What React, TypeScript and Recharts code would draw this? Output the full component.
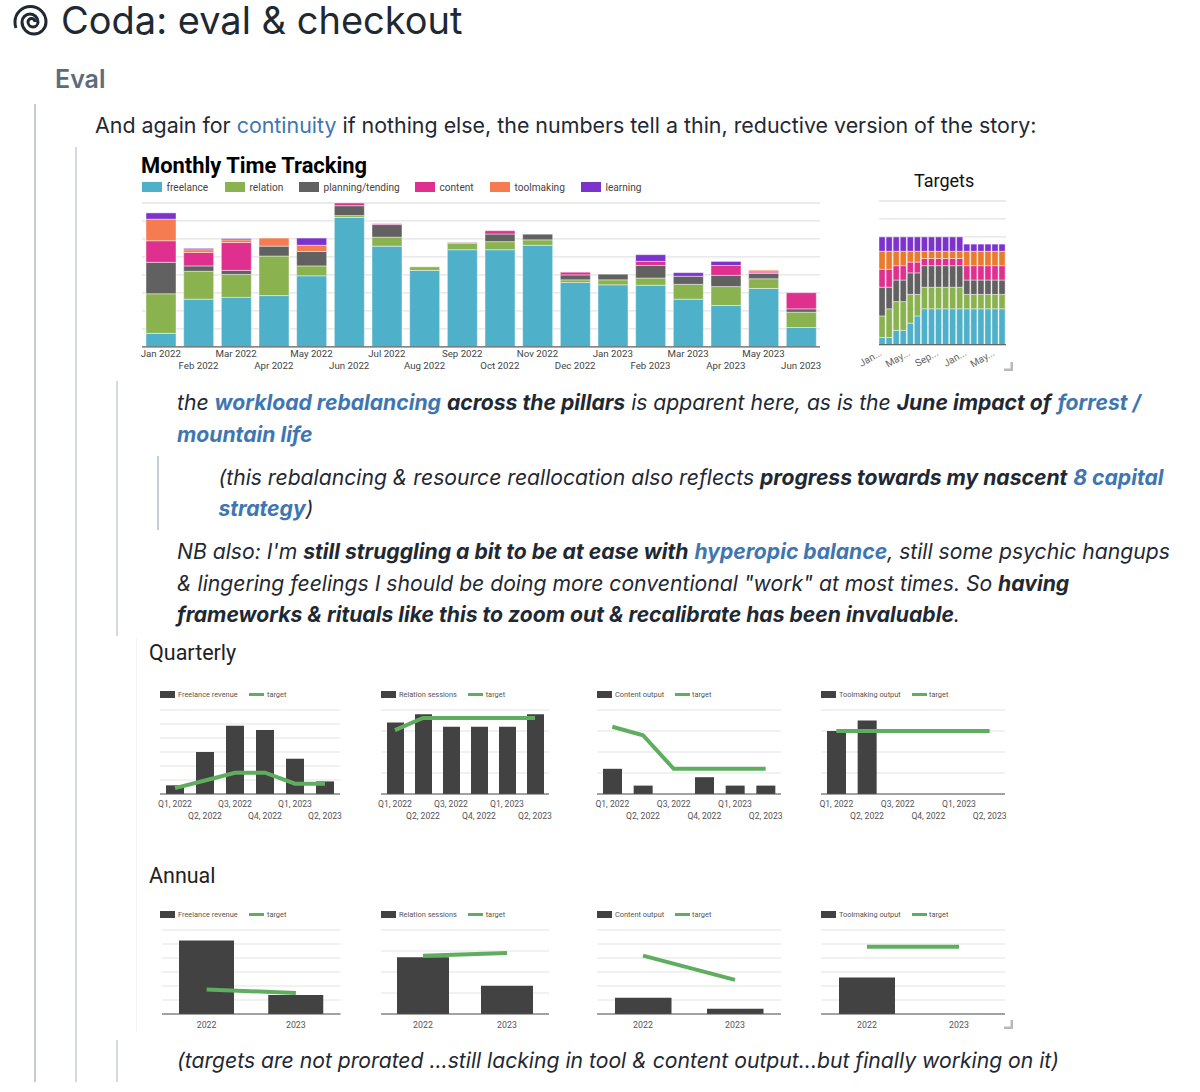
import React from "react";
import { ComposedChart, Bar, Line, XAxis, YAxis, CartesianGrid } from "recharts";

const monthCats = ["Jan 2022","Feb 2022","Mar 2022","Apr 2022","May 2022","Jun 2022","Jul 2022","Aug 2022","Sep 2022","Oct 2022","Nov 2022","Dec 2022","Jan 2023","Feb 2023","Mar 2023","Apr 2023","May 2023","Jun 2023"];
const stackNames = ["freelance","relation","planning/tending","content","toolmaking","learning"];
const stackColors = ["#4fb0c9","#8ab24f","#616161","#e0308f","#f47c50","#7b33cc"];
const targetColors = ["#4fb0c9","#8ab24f","#616161","#e0308f","#e97a2e","#7b33cc"];

const freelance = [15,53,55,57,79,144,112,85,108,108,113,71.5,69,68.5,53,46,65,21.5];
const relation = [44,31,25.5,44,11,2,10,4,7,9,6,3,5.5,8,16.5,21,10.7,17];
const planning = [35,6,4.5,11,16,11,14,0,1,8.5,6.3,5.5,6.3,14,9,12.5,6,3.7];
const content = [24,15,31,0,0,3,1,0,0,3.7,0,3,0,4.5,0,11,1.5,18];
const toolmaking = [24,3,3,9,7,0,0,0,0,0,0,0,0,0,0,0,2,0];
const learning = [7,1.5,1.5,0,8,0,0,0,0,0,0,0,0,7.5,4,4.5,0,0];
const monthlySeries = [freelance,relation,planning,content,toolmaking,learning];
const monthlyTicks = [0,20,40,60,80,100,120,140,160];

const tFreelance = [8,8,16,16,24,32,40,40,40,40,40,40,40,40,40,40,40,40];
const tRelation = [24,32,32,32,32,24,24,24,24,24,24,24,16,16,16,16,16,16];
const tPlanning = [32,24,24,24,24,24,24,24,24,24,24,24,16,16,16,16,16,16];
const tContent = [20,20,16,16,12,12,8,8,8,8,8,8,16,16,16,16,16,16];
const tToolmaking = [20,20,16,16,12,12,8,8,8,8,8,8,16,16,16,16,16,16];
const tLearning = [16,16,16,16,16,16,16,16,16,16,16,16,8,8,8,8,8,8];
const targetSeries = [tFreelance,tRelation,tPlanning,tContent,tToolmaking,tLearning];

const quarters = ["Q1, 2022","Q2, 2022","Q3, 2022","Q4, 2022","Q1, 2023","Q2, 2023"];
const years = ["2022","2023"];

const qFreelance = [3.1,15,24.4,22.9,12.6,4.5];
const qFreelanceT = [2.1,4.8,7.6,7.6,3.7,3.7];
const qRelation = [17,19,16,16,16,19];
const qRelationT = [15.2,18.1,18.1,18.1,18.1,18.1];
const qContent = [3,1,0,2,1,1];
const qContentT = [8,7,3,3,3,3];
const qTool = [6,7,0,0,0,0];
const qToolT = [6,6,6,6,6,6];

const aFreelance = [105,27];
const aFreelanceT = [35,30];
const aRelation = [54,27];
const aRelationT = [55.5,58];
const aContent = [7,2.3];
const aContentT = [25,14.6];
const aTool = [13,0];
const aToolT = [24,24];

const legendOffsets: Record<string, number[]> = {
  "Freelance revenue": [89, 107],
  "Relation sessions": [87, 104.7],
  "Content output": [78, 95],
  "Toolmaking output": [91, 108],
};

const TEXT = "#1f2933";
const LINK = "#3f76b2";
const GRID = "#e3e3e3";
const M = 24;

function toRows(cats: string[], series: Record<string, number[]>) {
  return cats.map((name, i) => {
    const row: any = { name };
    Object.keys(series).forEach((k) => (row[k] = series[k][i]));
    return row;
  });
}

function Abs({ x, y, style, children }: any) {
  return <div style={{ position: "absolute", left: x, top: y, whiteSpace: "nowrap", ...style }}>{children}</div>;
}

const TwoRowTick = (size: number, r1: number, r2: number, color: string) => (p: any) => (
  <text x={p.x} y={p.y + (p.index % 2 ? r2 : r1)} textAnchor="middle" fontFamily="Roboto" fontSize={size} fill={color}>
    {p.payload.value}
  </text>
);

function StackChart({ x, y, w, h, cats, series, colors, ticks, barSize, tick, axisH, interval }: any) {
  const rows = cats.map((name: string, i: number) => {
    const row: any = { name };
    stackNames.forEach((k, s) => (row[k] = series[s][i]));
    return row;
  });
  return (
    <div style={{ position: "absolute", left: x - M, top: y - 2 }}>
      <ComposedChart width={w + M * 2} height={h + 2 + axisH} data={rows} margin={{ top: 2, right: M, bottom: 0, left: M }}>
        <CartesianGrid vertical={false} stroke={GRID} strokeWidth={1.3} />
        <XAxis dataKey="name" height={axisH} interval={interval} tick={tick} tickLine={false} stroke="#666" strokeWidth={1.2} />
        <YAxis hide domain={[0, ticks[ticks.length - 1]]} ticks={ticks} interval={0} />
        {stackNames.map((k, s) => (
          <Bar key={k} dataKey={k} stackId="a" fill={colors[s]} barSize={barSize} stroke="#ffffff" strokeOpacity={0.55} strokeWidth={0.8} isAnimationActive={false} />
        ))}
      </ComposedChart>
    </div>
  );
}

function ComboChart({ x, y, w, cats, bars, target, barKey, ticks, barSize, tick, legendX }: any) {
  const rows = toRows(cats, { [barKey]: bars, target });
  const h = 84;
  const axisH = 32;
  const [lineOff, textOff] = legendOffsets[barKey];
  return (
    <>
      <div style={{ position: "absolute", left: legendX, top: y - 20, height: 8, width: 180, fontFamily: "Roboto", fontSize: 7.4, color: "#555", lineHeight: "8px" }}>
        <span style={{ position: "absolute", left: 0, top: 0.5, width: 15, height: 7.5, background: "#424242" }} />
        <span style={{ position: "absolute", left: 18, top: 0.5, whiteSpace: "nowrap" }}>{barKey}</span>
        <span style={{ position: "absolute", left: lineOff, top: 2.5, width: 15, height: 3, background: "#5fae5f" }} />
        <span style={{ position: "absolute", left: textOff, top: 0.5 }}>target</span>
      </div>
      <div style={{ position: "absolute", left: x - M, top: y - 2 }}>
        <ComposedChart width={w + M * 2} height={h + 2 + axisH} data={rows} margin={{ top: 2, right: M, bottom: 0, left: M }}>
          <CartesianGrid vertical={false} stroke={GRID} strokeWidth={1} />
          <XAxis dataKey="name" height={axisH} interval={0} tick={tick} tickLine={false} stroke="#555" strokeWidth={1} />
          <YAxis hide domain={[0, ticks[ticks.length - 1]]} ticks={ticks} interval={0} />
          <Bar dataKey={barKey} fill="#424242" barSize={barSize} isAnimationActive={false} />
          <Line dataKey="target" type="linear" stroke="#5fae5f" strokeWidth={4} dot={false} isAnimationActive={false} />
        </ComposedChart>
      </div>
    </>
  );
}

const qTick = TwoRowTick(8.6, 5, 17, "#555");
const aTick = TwoRowTick(8.8, 6, 6, "#555");
const monthTick = TwoRowTick(9.7, 2, 14, "#444");
const targetTick = (p: any) => (
  <text x={p.x} y={p.y + 2} textAnchor="end" fontFamily="Roboto" fontSize={10} fill="#666" transform={`rotate(-30 ${p.x} ${p.y + 2})`}>
    {p.payload.value.slice(0, 3)}...
  </text>
);

const Vert = ({ x, y1, y2, c = "#c6ccd2" }: any) => (
  <div style={{ position: "absolute", left: x, top: y1, width: 1.5, height: y2 - y1, background: c }} />
);
const Handle = ({ x, y }: any) => (
  <svg style={{ position: "absolute", left: x, top: y }} width="9" height="9">
    <path d="M0 6.5H6.5V0H9V9H0Z" fill="#b9b9b9" />
  </svg>
);
const B = ({ children }: any) => <b style={{ fontWeight: 700 }}>{children}</b>;
const L = ({ children, bold }: any) => <span style={{ color: LINK, fontWeight: bold ? 700 : 400 }}>{children}</span>;

const italic = { fontFamily: "Inter", fontStyle: "italic", fontSize: 21.15, lineHeight: "30px", color: TEXT };

const legendX = [142, 225, 299, 415, 490, 581];

export default function App() {
  return (
    <div style={{ position: "absolute", left: 0, top: 0, width: 1200, height: 1092, background: "#fff", overflow: "hidden" }}>
      <svg style={{ position: "absolute", left: 0, top: 0 }} width="60" height="45">
        <path d="M35 22A3.5 3.5 0 0 0 28 22A5 5 0 0 0 38 22A8 8 0 0 0 22 22A12 12 0 0 0 46 22A15.5 15.5 0 0 0 15 22A15 15 0 0 0 16 28" fill="none" stroke={TEXT} strokeWidth="3" />
      </svg>
      <Abs x={61} y={0} style={{ fontFamily: "Inter", fontSize: 38, lineHeight: "40px", color: TEXT }}>Coda: eval &amp; checkout</Abs>
      <Abs x={55} y={64} style={{ fontFamily: "Inter", fontSize: 25, fontWeight: 600, lineHeight: "30px", color: "#5c6b7d" }}>Eval</Abs>
      <Abs x={95} y={110} style={{ fontFamily: "Inter", fontSize: 21.4, lineHeight: "30px", color: TEXT }}>
        And again for <L>continuity</L> if nothing else, the numbers tell a thin, reductive version of the story:
      </Abs>

      <Vert x={34} y1={104} y2={1082} />
      <Vert x={75} y1={147} y2={1082} c="#d5dade" />
      <Vert x={116} y1={381} y2={636} c="#d5dade" />
      <Vert x={116} y1={1040} y2={1082} c="#d5dade" />
      <Vert x={157} y1={456} y2={530} c="#c3d0da" />
      <div style={{ position: "absolute", left: 136, top: 638, width: 1, height: 394, background: "#f4f4f4" }} />

      <Abs x={141} y={152} style={{ fontFamily: "Roboto", fontWeight: 700, fontSize: 21.9, lineHeight: "28px", color: "#000" }}>Monthly Time Tracking</Abs>
      {stackNames.map((n, i) => (
        <React.Fragment key={n}>
          <div style={{ position: "absolute", left: legendX[i], top: 182, width: 20, height: 10, background: stackColors[i] }} />
          <Abs x={legendX[i] + 24.5} y={181.5} style={{ fontFamily: "Roboto", fontSize: 10.1, lineHeight: "12px", color: "#444" }}>{n}</Abs>
        </React.Fragment>
      ))}
      <StackChart x={142} y={202.7} w={678} h={143.8} cats={monthCats} series={monthlySeries} colors={stackColors} ticks={monthlyTicks} barSize={30} tick={monthTick} axisH={30} interval={0} />

      <Abs x={914} y={170} style={{ fontFamily: "Roboto", fontSize: 18, lineHeight: "22px", color: "#111" }}>Targets</Abs>
      <StackChart x={879} y={201.3} w={127} h={143.7} cats={monthCats} series={targetSeries} colors={targetColors} ticks={monthlyTicks} barSize={6.2} tick={targetTick} axisH={30} interval={3} />
      <Handle x={1004} y={362} />

      <Abs x={177} y={388} style={italic}>
        the <L bold>workload rebalancing</L> <B>across the pillars</B> is apparent here, as is the <B>June impact of</B> <L bold>forrest /</L>
      </Abs>
      <Abs x={177} y={420} style={italic}><L bold>mountain life</L></Abs>
      <Abs x={218.5} y={463} style={italic}>
        (this rebalancing &amp; resource reallocation also reflects <B>progress towards my nascent</B> <L bold>8 capital</L>
      </Abs>
      <Abs x={218.5} y={494} style={italic}><L bold>strategy</L>)</Abs>
      <Abs x={177} y={537} style={italic}>
        NB also: I'm <B>still struggling a bit to be at ease with</B> <L bold>hyperopic balance</L>, still some psychic hangups
      </Abs>
      <Abs x={177} y={569} style={italic}>
        &amp; lingering feelings I should be doing more conventional "work" at most times. So <B>having</B>
      </Abs>
      <Abs x={177} y={600} style={italic}>
        <B>frameworks &amp; rituals like this to zoom out &amp; recalibrate has been invaluable</B>.
      </Abs>

      <Abs x={149} y={640} style={{ fontFamily: "Roboto", fontSize: 21.5, lineHeight: "26px", color: "#222" }}>Quarterly</Abs>
      <ComboChart x={160} y={710.3} w={180} cats={quarters} bars={qFreelance} target={qFreelanceT} barKey="Freelance revenue" ticks={[0,5,10,15,20,25,30]} barSize={18} tick={qTick} legendX={160} />
      <ComboChart x={381} y={710.3} w={168} cats={quarters} bars={qRelation} target={qRelationT} barKey="Relation sessions" ticks={[0,5,10,15,20]} barSize={17} tick={qTick} legendX={381} />
      <ComboChart x={597} y={710.3} w={184} cats={quarters} bars={qContent} target={qContentT} barKey="Content output" ticks={[0,2.5,5,7.5,10]} barSize={19} tick={qTick} legendX={597} />
      <ComboChart x={821} y={710.3} w={184} cats={quarters} bars={qTool} target={qToolT} barKey="Toolmaking output" ticks={[0,2,4,6,8]} barSize={19} tick={qTick} legendX={821} />

      <Abs x={149} y={863} style={{ fontFamily: "Roboto", fontSize: 21.5, lineHeight: "26px", color: "#222" }}>Annual</Abs>
      <ComboChart x={161.5} y={930.3} w={178.5} cats={years} bars={aFreelance} target={aFreelanceT} barKey="Freelance revenue" ticks={[0,20,40,60,80,100,120]} barSize={55} tick={aTick} legendX={160} />
      <ComboChart x={381} y={930.3} w={168} cats={years} bars={aRelation} target={aRelationT} barKey="Relation sessions" ticks={[0,20,40,60,80]} barSize={52} tick={aTick} legendX={381} />
      <ComboChart x={597} y={930.3} w={184} cats={years} bars={aContent} target={aContentT} barKey="Content output" ticks={[0,6,12,18,24,30,36]} barSize={56.5} tick={aTick} legendX={597} />
      <ComboChart x={821} y={930.3} w={184} cats={years} bars={aTool} target={aToolT} barKey="Toolmaking output" ticks={[0,5,10,15,20,25,30]} barSize={56} tick={aTick} legendX={821} />
      <Handle x={1004} y={1020} />

      <Abs x={177} y={1046} style={italic}>
        (targets are not prorated ...still lacking in tool &amp; content output...but finally working on it)
      </Abs>
    </div>
  );
}
